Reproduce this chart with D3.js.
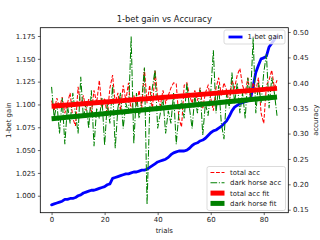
<!DOCTYPE html>
<html><head><meta charset="utf-8">
<script src="https://cdn.jsdelivr.net/npm/d3@7"></script>
<style>body{margin:0;background:#fff}svg{display:block;font-family:"DejaVu Sans",sans-serif}</style>
</head><body><svg id="c" width="320" height="240"></svg>
<script>
const trials = d3.range(0, 86);
const gain = [0.990,0.991,0.992,0.993,0.994,0.996,0.996,0.997,0.997,0.998,
1.000,1.001,1.003,1.004,1.005,1.006,1.006,1.007,1.008,1.009,
1.010,1.012,1.013,1.019,1.020,1.021,1.022,1.023,1.024,1.024,
1.025,1.026,1.026,1.027,1.028,1.028,1.029,1.031,1.033,1.035,
1.037,1.038,1.039,1.040,1.042,1.045,1.047,1.048,1.049,1.049,
1.049,1.050,1.052,1.055,1.057,1.058,1.060,1.061,1.063,1.066,
1.069,1.071,1.072,1.074,1.076,1.079,1.082,1.087,1.093,1.097,
1.099,1.101,1.102,1.103,1.104,1.106,1.120,1.135,1.143,1.150,
1.151,1.153,1.163,1.167,1.171,1.175];
const totalAcc = [0.365,0.345,0.370,0.350,0.372,0.340,0.360,0.380,0.330,0.315,
0.392,0.355,0.375,0.345,0.368,0.340,0.385,0.360,0.405,0.350,
0.370,0.335,0.390,0.415,0.360,0.380,0.345,0.395,0.365,0.400,
0.340,0.375,0.355,0.385,0.350,0.428,0.360,0.395,0.345,0.425,
0.370,0.355,0.385,0.360,0.375,0.390,0.400,0.398,0.330,0.313,
0.395,0.400,0.375,0.360,0.385,0.365,0.390,0.350,0.380,0.395,
0.370,0.345,0.390,0.410,0.375,0.400,0.385,0.360,0.405,0.390,
0.415,0.428,0.395,0.380,0.410,0.370,0.400,0.385,0.410,0.340,
0.320,0.395,0.405,0.425,0.390,0.405];
const darkAcc = [0.392,0.330,0.360,0.300,0.370,0.279,0.355,0.320,0.380,0.340,
0.300,0.412,0.330,0.360,0.310,0.385,0.275,0.350,0.330,0.370,
0.277,0.360,0.320,0.395,0.271,0.350,0.380,0.310,0.360,0.340,
0.491,0.280,0.380,0.330,0.365,0.430,0.160,0.350,0.390,0.425,
0.310,0.340,0.370,0.300,0.345,0.320,0.380,0.279,0.340,0.365,
0.330,0.400,0.350,0.310,0.375,0.340,0.390,0.297,0.360,0.335,
0.380,0.464,0.340,0.395,0.320,0.289,0.380,0.350,0.420,0.360,
0.400,0.340,0.380,0.330,0.410,0.370,0.488,0.340,0.400,0.360,
0.420,0.456,0.350,0.410,0.380,0.335];
const fitX = [0, 85];
const totalFit = [0.354, 0.389];
const darkFit = [0.329, 0.372];
const leftTicks = [1.000,1.025,1.050,1.075,1.100,1.125,1.150,1.175];
const rightTicks = [0.15,0.20,0.25,0.30,0.35,0.40,0.45,0.50];
const xTicks = [0,20,40,60,80];

const L=40.3,R=288.3,T=27.7,B=212.7;
const svg=d3.select('#c');
const x=d3.scaleLinear().domain([-4.25,89.25]).range([L,R]);
const y1=d3.scaleLinear().domain([0.9814,1.1841]).range([B,T]);
const y2=d3.scaleLinear().domain([0.1441,0.5085]).range([B,T]);
const fs=6.94;

svg.append('defs').append('clipPath').attr('id','clp').append('rect')
 .attr('x',L).attr('y',T).attr('width',R-L).attr('height',B-T);

const line1=d3.line().x((d,i)=>x(trials[i])).y(d=>y1(d));
const line2=d3.line().x((d,i)=>x(trials[i])).y(d=>y2(d));
const fitLine=d3.line().x((d,i)=>x(fitX[i])).y(d=>y2(d));

const g=svg.append('g').attr('clip-path','url(#clp)');
g.append('path').attr('d',line1(gain)).attr('fill','none').attr('stroke','#0000ff').attr('stroke-width',2.8).attr('stroke-linejoin','round').attr('stroke-linecap','round');

// legend 1 (ax1)
function legendBox(x0,y0,w,h){
 svg.append('rect').attr('x',x0).attr('y',y0).attr('width',w).attr('height',h).attr('rx',2)
  .attr('fill','#fff').attr('fill-opacity',0.8).attr('stroke','#cccccc').attr('stroke-width',0.7);
}
legendBox(224,30,61,14);
svg.append('line').attr('x1',228.5).attr('x2',242.5).attr('y1',37).attr('y2',37).attr('stroke','#0000ff').attr('stroke-width',2.8);
svg.append('text').attr('x',247.5).attr('y',37).attr('dy','0.35em').attr('font-size',fs).attr('fill','#222').text('1-bet gain');

const g2=svg.append('g').attr('clip-path','url(#clp)');
g2.append('path').attr('d',line2(totalAcc)).attr('fill','none').attr('stroke','#ff0000').attr('stroke-width',1.04).attr('stroke-dasharray','3.85,1.67');
g2.append('path').attr('d',line2(darkAcc)).attr('fill','none').attr('stroke','#008000').attr('stroke-width',1.04).attr('stroke-dasharray','6.67,1.67,1.04,1.67');
g2.append('path').attr('d',fitLine(totalFit)).attr('fill','none').attr('stroke','#ff0000').attr('stroke-width',5);
g2.append('path').attr('d',fitLine(darkFit)).attr('fill','none').attr('stroke','#008000').attr('stroke-width',5);

// frame
svg.append('rect').attr('x',L).attr('y',T).attr('width',R-L).attr('height',B-T).attr('fill','none').attr('stroke','#000').attr('stroke-width',0.8);

// axes
const ax=svg.append('g').attr('transform',`translate(0,${B})`).call(d3.axisBottom(x).tickValues(xTicks).tickFormat(d3.format('d')).tickSize(2.4).tickPadding(2.4));
const al=svg.append('g').attr('transform',`translate(${L},0)`).call(d3.axisLeft(y1).tickValues(leftTicks).tickFormat(d3.format('.3f')).tickSize(2.4).tickPadding(2.4));
const ar=svg.append('g').attr('transform',`translate(${R},0)`).call(d3.axisRight(y2).tickValues(rightTicks).tickFormat(d3.format('.2f')).tickSize(2.4).tickPadding(2.4));
[ax,al,ar].forEach(a=>{a.select('.domain').remove();a.selectAll('text').attr('font-size',fs).attr('fill','#222').attr('font-family','DejaVu Sans');a.selectAll('line').attr('stroke','#000').attr('stroke-width',0.6);});

svg.append('text').attr('x',(L+R)/2).attr('y',21.5).attr('text-anchor','middle').attr('font-size',8.33).attr('fill','#222').text('1-bet gain vs Accuracy');
svg.append('text').attr('x',(L+R)/2).attr('y',232.5).attr('text-anchor','middle').attr('font-size',fs).attr('fill','#222').text('trials');
svg.append('text').attr('transform',`translate(10.5,${(T+B)/2}) rotate(-90)`).attr('text-anchor','middle').attr('font-size',fs).attr('fill','#222').text('1-bet gain');
svg.append('text').attr('transform',`translate(317.5,${(T+B)/2}) rotate(-90)`).attr('text-anchor','middle').attr('font-size',fs).attr('fill','#222').text('accuracy');

// legend 2 (ax2)
legendBox(207,166.5,78.5,44);
const items=[
 {label:'total acc',color:'#ff0000',w:1.04,dash:'3.85,1.67'},
 {label:'dark horse acc',color:'#008000',w:1.04,dash:'6.67,1.67,1.04,1.67'},
 {label:'total acc fit',color:'#ff0000',w:5,dash:null},
 {label:'dark horse fit',color:'#008000',w:5,dash:null}];
const rowsY=[172.5,182.8,193.1,203.4];
items.forEach((it,i)=>{
 const ln=svg.append('line').attr('x1',210.5).attr('x2',224.5).attr('y1',rowsY[i]).attr('y2',rowsY[i]).attr('stroke',it.color).attr('stroke-width',it.w);
 if(it.dash) ln.attr('stroke-dasharray',it.dash);
 svg.append('text').attr('x',230).attr('y',rowsY[i]).attr('dy','0.35em').attr('font-size',fs).attr('fill','#222').text(it.label);
});
</script></body></html>
